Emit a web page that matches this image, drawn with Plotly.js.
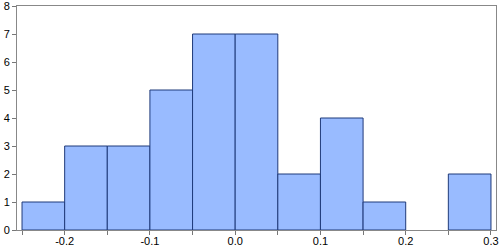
<!DOCTYPE html>
<html><head><meta charset="utf-8">
<script src="https://cdn.plot.ly/plotly-3.0.1.min.js"></script>
<style>html,body{margin:0;padding:0;background:#fff}#chart{width:501px;height:246px}</style>
</head><body><div id="chart"></div>
<script>
const binStarts = [-0.25, -0.2, -0.15, -0.1, -0.05, 0.0, 0.05, 0.1, 0.15, 0.2, 0.25];
const counts    = [1, 3, 3, 5, 7, 7, 2, 4, 1, 0, 2];
const binWidth  = 0.05;
const xTickVals = [-0.25, -0.2, -0.15, -0.1, -0.05, 0.0, 0.05, 0.1, 0.15, 0.2, 0.25, 0.3];
const xTickText = ["", "-0.2", "", "-0.1", "", "0.0", "", "0.1", "", "0.2", "", "0.3"];
const yTickVals = [0, 1, 2, 3, 4, 5, 6, 7, 8];

const centers = binStarts.map(s => s + binWidth / 2);

const trace = {
  type: 'bar',
  x: centers,
  y: counts,
  width: binStarts.map(() => binWidth),
  marker: {color: '#99bbff', line: {color: '#1f3a7a', width: counts.map(c => c > 0 ? 1 : 0)}},
  hoverinfo: 'none'
};

const layout = {
  width: 501, height: 246,
  margin: {l: 17, r: 5, t: 6, b: 16, pad: 0},
  paper_bgcolor: '#ffffff', plot_bgcolor: '#ffffff',
  showlegend: false,
  font: {family: 'Liberation Sans, Arial, sans-serif', size: 11, color: '#000'},
  bargap: 0,
  xaxis: {
    range: [-0.2559, 0.3059],
    tickmode: 'array', tickvals: xTickVals, ticktext: xTickText,
    ticks: 'outside', ticklen: 4, tickcolor: '#777', tickwidth: 1,
    ticklabelstandoff: -3, ticklabeloverflow: 'allow',
    showgrid: false, zeroline: false,
    showline: true, linecolor: '#888', linewidth: 1, mirror: true,
    tickfont: {size: 11}
  },
  yaxis: {
    range: [0, 8.0001],
    tickmode: 'array', tickvals: yTickVals,
    ticks: 'outside', ticklen: 4, tickcolor: '#777', tickwidth: 1,
    ticklabeloverflow: 'allow',
    showgrid: false, zeroline: false,
    showline: true, linecolor: '#888', linewidth: 1, mirror: true,
    tickfont: {size: 11}
  }
};

Plotly.newPlot('chart', [trace], layout, {staticPlot: true, displayModeBar: false});
</script>
</body></html>
